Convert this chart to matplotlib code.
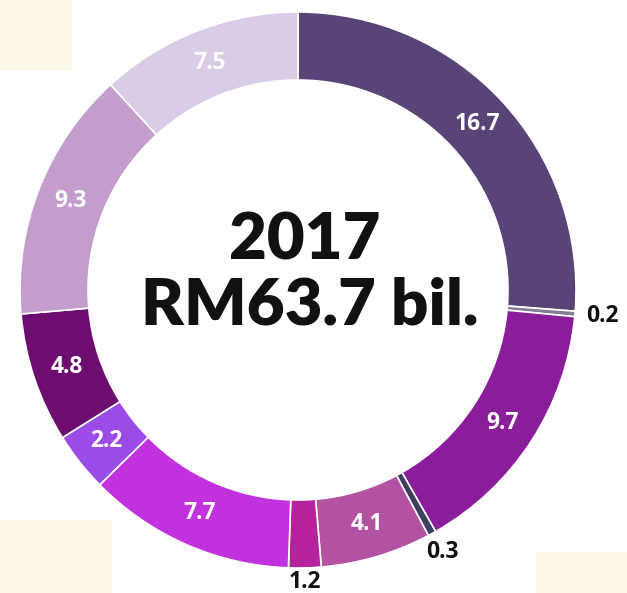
import numpy as np
import matplotlib.pyplot as plt
from matplotlib.patches import Rectangle

# Data (RM bil., 2017), clockwise from 12 o'clock
values = [16.7, 0.2, 9.7, 0.3, 4.1, 1.2, 7.7, 2.2, 4.8, 9.3, 7.5]
labels = ['16.7', '0.2', '9.7', '0.3', '4.1', '1.2', '7.7', '2.2', '4.8', '9.3', '7.5']
colors = ['#584477', '#857c96', '#8a1e9a', '#3e3f5e', '#b452a2', '#b6219c',
          '#c131de', '#9c4ce6', '#6c0d6f', '#c39dcb', '#d8cce6']
outside = ['0.2', '0.3', '1.2']
center_title = '2017'
center_total = 'RM63.7 bil.'

W, H = 627, 593
CX, CY = 298, H - 290
R_OUT = 278
RING = 68

fig = plt.figure(figsize=(W / 100, H / 100), dpi=100)
fig.patch.set_facecolor('white')
ax = fig.add_axes([0, 0, 1, 1])

wedges, _ = ax.pie(values, colors=colors, startangle=90, counterclock=False,
                   center=(CX, CY), radius=R_OUT,
                   wedgeprops=dict(width=RING, edgecolor='white', linewidth=1.2))

# pie() resets the limits, so set them afterwards
ax.set_xlim(0, W)
ax.set_ylim(0, H)
ax.set_aspect('equal')
ax.axis('off')

# cream corners from the scanned page
cream = '#fdf7ea'
ax.add_patch(Rectangle((0, H - 69), 71, 69, color=cream, zorder=0))
ax.add_patch(Rectangle((0, 0), 111, H - 520, color=cream, zorder=0))
ax.add_patch(Rectangle((536, 0), W - 536, H - 552, color=cream, zorder=0))

r_mid = R_OUT - RING / 2
for w, lab in zip(wedges, labels):
    ang = np.deg2rad((w.theta1 + w.theta2) / 2)
    if lab in outside:
        # small slices get their label just outside the ring
        r = R_OUT + 14 + 14 * abs(np.cos(ang))
        col = '#111111'
    else:
        r = r_mid
        col = 'white'
    ax.text(CX + r * np.cos(ang), CY + r * np.sin(ang), lab, ha='center', va='center',
            fontsize=16.5, fontweight='bold', color=col, family='Open Sans')

ax.text(CX + 7, H - 241, center_title, ha='center', va='center',
        fontsize=47, fontweight='heavy', color='#111111', family='Lato')
ax.text(CX + 12, H - 306, center_total, ha='center', va='center',
        fontsize=47, fontweight='heavy', color='#111111', family='Lato')

fig.savefig('out.png', dpi=100)
